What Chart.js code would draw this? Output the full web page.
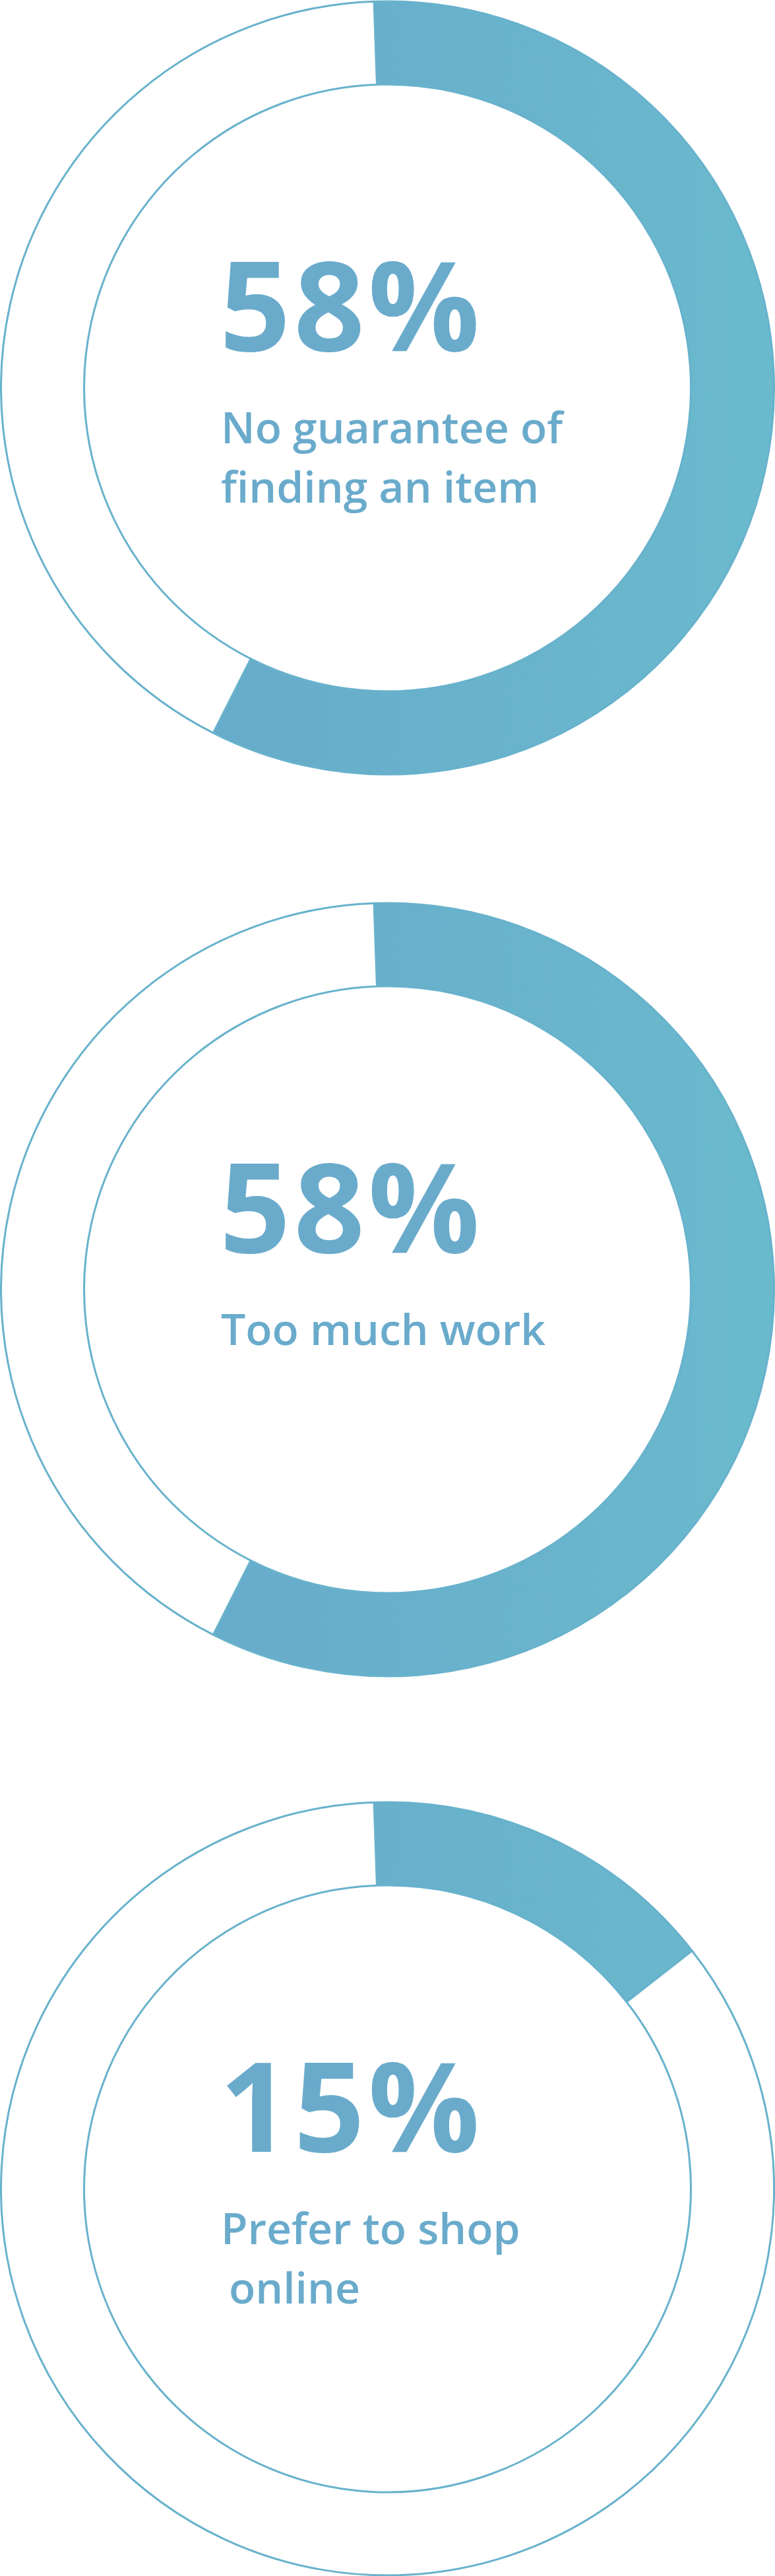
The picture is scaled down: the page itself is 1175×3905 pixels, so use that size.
<!DOCTYPE html>
<html>
<head>
<meta charset="utf-8">
<script src="https://cdn.jsdelivr.net/npm/chart.js@4/dist/chart.umd.min.js"></script>
<style>
  body { margin: 0; background: #fff; }
  #wrap { position: relative; width: 1175px; height: 3905px; overflow: hidden; background: #fff; }
  .block { position: absolute; left: 0; width: 1175px; height: 1176px; }
  .block canvas { position: absolute; left: 0; top: 0; }
  .num { position: absolute; left: 333px; top: 365px; font-family: "Open Sans", sans-serif; font-weight: 700; font-size: 188px; letter-spacing: 5px; line-height: 1; color: #6aabcc; white-space: nowrap; }
  .lbl { position: absolute; left: 335px; top: 601px; font-family: "Open Sans", sans-serif; font-weight: 600; font-size: 66px; line-height: 90px; color: #6aabcc; white-space: nowrap; }
  .lbl span { display: block; }
</style>
</head>
<body>
<div id="wrap"></div>
<script>
// values
const labels = ['No guarantee of finding an item', 'Too much work', 'Prefer to shop online'];
const labelLines = [['No guarantee of', 'finding an item'], ['Too much work'], ['Prefer to shop', 'online']];
const percent = [58, 58, 15];
const rest = [42, 42, 85];
const blockTops = [0, 1367, 2730];

const lineColor = '#68b2cc';
const wrap = document.getElementById('wrap');

// filled slice gets a soft left-to-right gradient, the rest stays white
const sliceColor = (context) => {
  if (context.dataIndex !== 0) return '#ffffff';
  const chart = context.chart;
  const area = chart.chartArea;
  if (!area) return '#69b0cb';
  const g = chart.ctx.createLinearGradient(area.left, 0, area.right, 0);
  g.addColorStop(0, '#66a6ca');
  g.addColorStop(1, '#6abacd');
  return g;
};

labels.forEach((name, i) => {
  const block = document.createElement('div');
  block.className = 'block';
  block.style.top = blockTops[i] + 'px';
  const cv = document.createElement('canvas');
  cv.width = 1175;
  cv.height = 1176;
  cv.style.width = '1175px';
  cv.style.height = '1176px';
  block.appendChild(cv);

  const num = document.createElement('div');
  num.className = 'num';
  num.textContent = percent[i] + '%';
  block.appendChild(num);

  const lbl = document.createElement('div');
  lbl.className = 'lbl';
  labelLines[i].forEach((t, k) => {
    const s = document.createElement('span');
    s.textContent = t;
    if (i == 2 && k == 1) s.style.paddingLeft = '12px';
    lbl.appendChild(s);
  });
  block.appendChild(lbl);
  wrap.appendChild(block);

  new Chart(cv, {
    type: 'doughnut',
    data: {
      labels: [name, 'Other'],
      datasets: [{
        data: [percent[i], rest[i]],
        backgroundColor: sliceColor,
        borderColor: lineColor,
        borderWidth: 3,
        hoverOffset: 0
      }]
    },
    options: {
      responsive: false,
      animation: false,
      cutout: '78.5%',
      rotation: -2,
      layout: { padding: 0 },
      events: [],
      plugins: {
        legend: { display: false },
        tooltip: { enabled: false }
      }
    }
  });
});
</script>
</body>
</html>
